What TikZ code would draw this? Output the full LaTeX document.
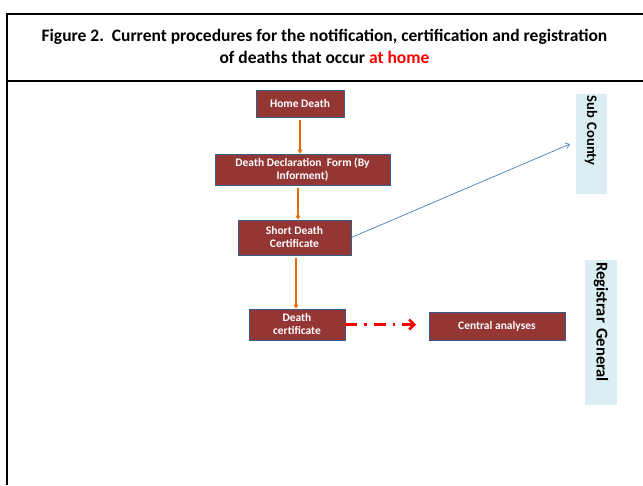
\documentclass[tikz,border=0pt]{standalone}
\usepackage{fontspec}
\setmainfont{Carlito}
\usetikzlibrary{arrows.meta}

\definecolor{boxred}{HTML}{943634}
\definecolor{boxline}{HTML}{385D8A}
\definecolor{paleblue}{HTML}{DBEEF3}
\definecolor{flowor}{HTML}{E46C0A}
\definecolor{linkblue}{HTML}{4A7EBB}

\begin{document}
\begin{tikzpicture}[x=1pt,y=-1pt,
  stage/.style={draw=boxline,fill=boxred,text=white,line width=0.8pt,
    font=\bfseries\fontsize{11.5}{13}\selectfont,align=center,inner sep=1pt},
  office/.style={fill=paleblue,rotate=-90,inner sep=2pt,align=left},
  flow/.style={draw=flowor,line width=2pt,shorten <=3pt,
    -{Triangle[length=4pt,width=5pt]}}]
  \useasboundingbox (0,0) rectangle (643,485);
  % frame and heading
  \draw[line width=2pt] (7,485) -- (7,14) -- (643,14);
  \draw[line width=1.5pt] (7,81) -- (643,81);
  \node[align=center,font=\bfseries\fontsize{17.5}{22}\selectfont] (title) at (324.5,46)
    {Figure 2.\ \ Current procedures for the notification,\ certification\ and\ registration\\
     of deaths that occur \textcolor{red}{at home}};
  % steps
  \node[stage,minimum width=88,minimum height=27] (home) at (300,103.5) {Home Death};
  \node[stage,minimum width=175,minimum height=31,
    font=\bfseries\fontsize{11.5}{13}\selectfont] (form) at (302.5,169.5)
    {Death Declaration\ \ Form (By\\Informent)};
  \node[stage,minimum width=113,minimum height=35] (short) at (294.5,237.5)
    {Short Death\\Certificate};
  \node[stage,minimum width=96,minimum height=31] (cert) at (297,324.5)
    {Death\\certificate};
  \node[stage,minimum width=136,minimum height=28] (central) at (497,326)
    {Central analyses};
  % offices
  \node[office,minimum width=100,minimum height=31,text width=96,
    font=\bfseries\fontsize{14.5}{15}\selectfont] (subc) at (591,143.5) {Sub County};
  \node[office,minimum width=145,minimum height=32,text width=141,
    font=\bfseries\fontsize{16.5}{17}\selectfont] (regen) at (601,332.5) {Registrar General};
  % connectors
  \draw[flow] (home.south) -- (home.south |- form.north);
  \draw[flow] (form.south -| 298,0) -- (298,0 |- short.north);
  \draw[flow,line width=1.4pt] (short.south -| 296,0) -- (296,0 |- cert.north);
  \coordinate (subtip) at (570,144);
  \draw[linkblue,line width=0.7pt,-{Straight Barb[length=4pt,width=6pt]}]
    (short.east) -- (subtip);
  \coordinate (centtip) at (416,324.5);
  \draw[red,line width=2.5pt,dash pattern=on 12pt off 7pt on 2.5pt off 7pt,
    -{Straight Barb[length=5pt,width=10pt,line width=2.5pt]}] (cert.east) -- (centtip);
\end{tikzpicture}
\end{document}
